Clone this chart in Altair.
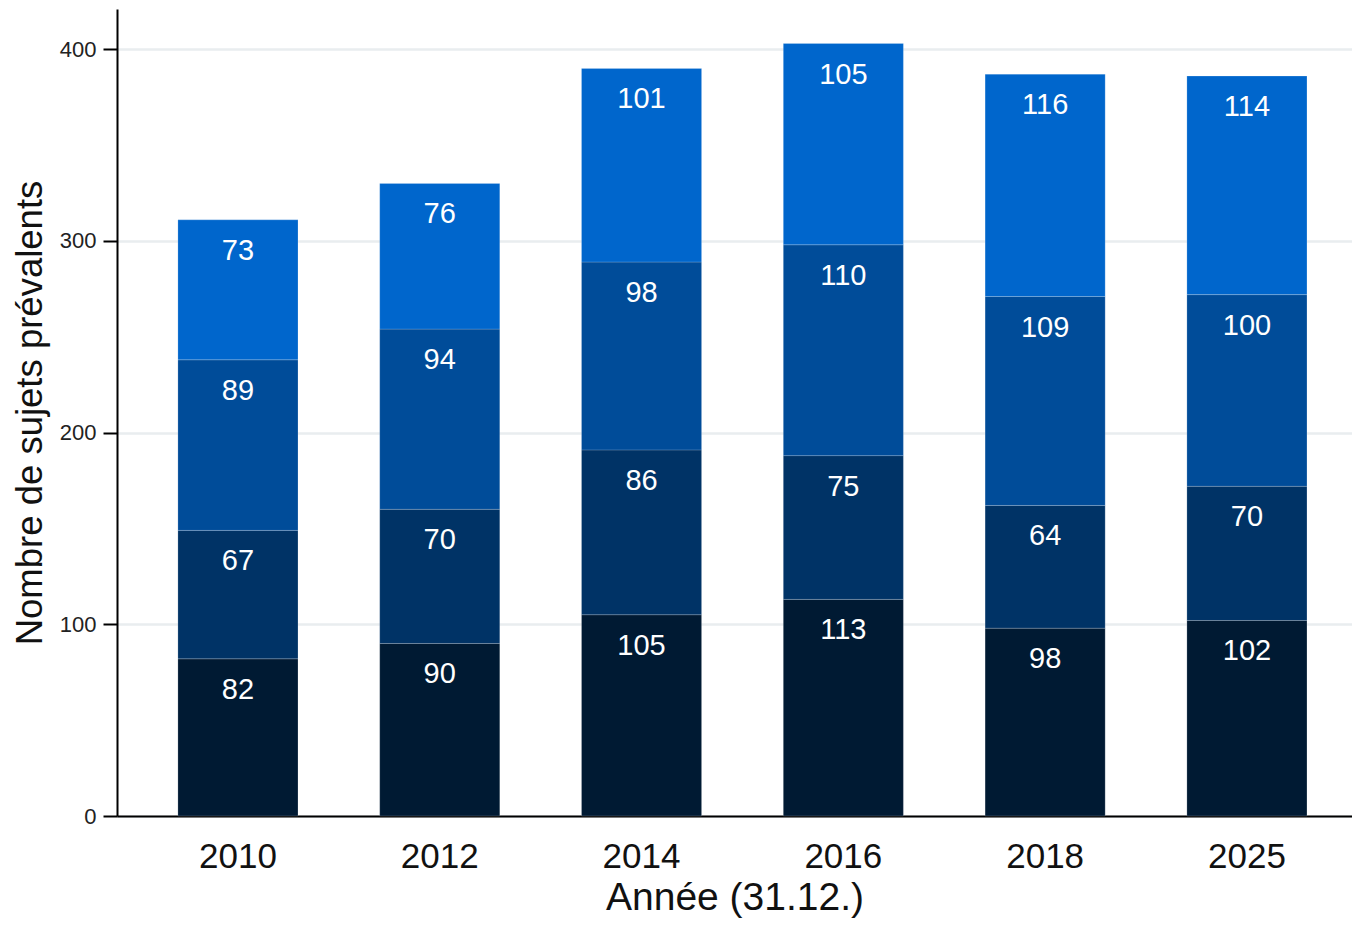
import altair as alt
import pandas as pd

years = ["2010", "2012", "2014", "2016", "2018", "2025"]
groups = ["Groupe 1", "Groupe 2", "Groupe 3", "Groupe 4"]
g1 = [82, 90, 105, 113, 98, 102]
g2 = [67, 70, 86, 75, 64, 70]
g3 = [89, 94, 98, 110, 109, 100]
g4 = [73, 76, 101, 105, 116, 114]
colors = ["#001a33", "#003366", "#004c99", "#0066cc"]

rows = []
for gi, (g, vals) in enumerate(zip(groups, [g1, g2, g3, g4])):
    for y, v in zip(years, vals):
        rows.append({"year": y, "group": g, "order": gi, "value": v})
df = pd.DataFrame(rows)

FONT = "Liberation Sans"

base = alt.Chart(df).transform_stack(
    stack="value", groupby=["year"], sort=[alt.SortField("order", order="ascending")],
    as_=["y0", "y1"]
)

xenc = alt.X("year:N", sort=years, title="Année (31.12.)",
             scale=alt.Scale(paddingInner=0.405, paddingOuter=0.2625, align=0.575),
             axis=alt.Axis(labelAngle=0, labelFontSize=35, labelColor="#111", labelFont=FONT,
                           titleFontSize=39, titleFont=FONT, titleFontWeight="normal",
                           titleColor="#111", titlePadding=4, labelPadding=23,
                           ticks=False, domainColor="#000", domainWidth=2, grid=False))

bars = base.mark_bar(stroke="#ffffff", strokeOpacity=0.18, strokeWidth=1).encode(
    x=xenc,
    y=alt.Y("y0:Q", title="Nombre de sujets prévalents",
            scale=alt.Scale(domain=[0, 421], nice=False),
            axis=alt.Axis(values=[0, 100, 200, 300, 400], labelFontSize=22, labelFont=FONT,
                          labelColor="#222", tickSize=14, tickWidth=2, tickColor="#000",
                          domainColor="#000", domainWidth=2, labelPadding=7,
                          titleFontSize=36.5, titleFont=FONT, titleFontWeight="normal",
                          titleColor="#111", titlePadding=10,
                          grid=True, gridColor="#e9edef", gridWidth=2.5)),
    y2="y1:Q",
    color=alt.Color("group:N", sort=groups, scale=alt.Scale(domain=groups, range=colors), legend=None),
)

labels = base.mark_text(color="white", fontSize=29, font=FONT, baseline="middle", dy=31).encode(
    x=alt.X("year:N", sort=years),
    y=alt.Y("y1:Q"),
    text=alt.Text("value:Q"),
)

chart = alt.layer(bars, labels).properties(
    width=1235, height=807,
    autosize=alt.AutoSizeParams(type="none"),
    padding={"left": 109, "top": 1, "right": 0, "bottom": 105},
).configure_view(stroke=None)

chart.save("out.html", embed_options={"renderer": "svg", "actions": False})
